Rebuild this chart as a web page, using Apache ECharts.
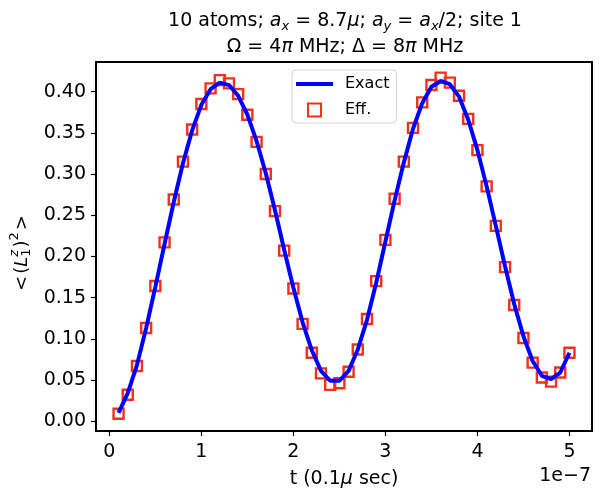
<!DOCTYPE html>
<html><head><meta charset="utf-8">
<script src="https://cdn.jsdelivr.net/npm/echarts@6/dist/echarts.min.js"></script>
<style>html,body{margin:0;padding:0;background:#fff}#c{width:602px;height:499px}</style>
</head><body><div id="c"></div>
<script>
// time in units of 1e-7 s
const tValues = [0.1,0.2,0.3,0.4,0.5,0.6,0.7,0.8,0.9,1.0,
  1.1,1.2,1.3,1.4,1.5,1.6,1.7,1.8,1.9,2.0,
  2.1,2.2,2.3,2.4,2.5,2.6,2.7,2.8,2.9,3.0,
  3.1,3.2,3.3,3.4,3.5,3.6,3.7,3.8,3.9,4.0,
  4.1,4.2,4.3,4.4,4.5,4.6,4.7,4.8,4.9,5.0];
const exactValues = [0.010,0.034,0.068,0.113,0.163,0.215,0.266,0.313,0.353,0.384,
  0.403,0.411,0.408,0.395,0.372,0.340,0.301,0.256,0.208,0.162,
  0.120,0.086,0.061,0.049,0.049,0.061,0.087,0.123,0.168,0.218,
  0.268,0.314,0.355,0.386,0.406,0.413,0.409,0.394,0.366,0.329,
  0.285,0.237,0.188,0.142,0.103,0.073,0.055,0.051,0.059,0.083];
const effValues = [0.009,0.032,0.067,0.113,0.164,0.217,0.269,0.315,0.354,0.385,
  0.404,0.414,0.410,0.397,0.372,0.339,0.300,0.255,0.207,0.161,
  0.118,0.083,0.058,0.044,0.046,0.060,0.087,0.124,0.170,0.220,
  0.270,0.315,0.356,0.387,0.408,0.417,0.411,0.395,0.367,0.329,
  0.285,0.237,0.187,0.141,0.101,0.071,0.053,0.048,0.059,0.083];
const xTicks = [0,1,2,3,4,5];
const yTicks = [0,0.05,0.10,0.15,0.20,0.25,0.30,0.35,0.40];
const seriesNames = ['Exact','Eff.'];

const FONT = 'DejaVu Sans';
const FS = 19;
const chart = echarts.init(document.getElementById('c'), null, {renderer:'canvas'});

const mctx = document.createElement('canvas').getContext('2d');
function tw(t, size, style){ mctx.font = (style||'normal') + ' ' + size + 'px "' + FONT + '"'; return mctx.measureText(t).width; }

function ylabelGroup(){
  const S = 18, s = 13;
  const parts = [];
  let x = 0;
  const add = (text, size, style, dy) => { parts.push({text, size, style, x, dy}); };
  add('<', S, 'normal', 0); x += tw('<', S) + 2;
  add('(', S, 'normal', 0); x += tw('(', S);
  add('L', S, 'italic', 0); x += tw('L', S, 'italic');
  add('z', s, 'italic', -7); add('1', s, 'normal', 5);
  x += Math.max(tw('z', s, 'italic'), tw('1', s)) + 1;
  add(')', S, 'normal', 0); x += tw(')', S);
  add('2', s, 'normal', -7); x += tw('2', s) + 2;
  add('>', S, 'normal', 0); x += tw('>', S);
  const total = x;
  return {
    type:'group', x: 22, y: 253, rotation: Math.PI/2,
    children: parts.map(p => ({type:'text', x: p.x - total/2, y: p.dy,
      style:{text:p.text, fontSize:p.size, fontStyle:p.style, fontFamily:FONT, fill:'#000', align:'left', verticalAlign:'middle'}}))
  };
}

const richT = {
  i:{fontStyle:'italic', fontSize:FS, fontFamily:FONT, fill:'#000', color:'#000'},
  sub:{fontStyle:'italic', fontSize:13, fontFamily:FONT, lineHeight:12, verticalAlign:'bottom', fill:'#000', color:'#000'}
};

chart.setOption({
  animation:false,
  backgroundColor:'#fff',
  grid:{left:96, right:10, top:62, bottom:68, show:true, borderColor:'#000', borderWidth:2, backgroundColor:'transparent'},
  xAxis:{type:'value', min:-0.145, max:5.245,
    name:'t (0.1{i|μ} sec)', nameLocation:'middle', nameGap:39,
    nameTextStyle:{fontSize:FS, fontFamily:FONT, color:'#000', rich:{i:{fontStyle:'italic', fontSize:FS, fontFamily:FONT, color:'#000'}}},
    axisLine:{show:true, onZero:false, lineStyle:{color:'#000', width:2}},
    axisTick:{show:true, inside:false, length:5, customValues:xTicks, lineStyle:{color:'#000', width:1.2}},
    axisLabel:{customValues:xTicks, fontSize:FS, fontFamily:FONT, color:'#000', margin:12, formatter:v=>String(v)},
    splitLine:{show:false}},
  yAxis:{type:'value', min:-0.012, max:0.436,
    axisLine:{show:true, onZero:false, lineStyle:{color:'#000', width:2}},
    axisTick:{show:true, inside:false, length:5, customValues:yTicks, lineStyle:{color:'#000', width:1.2}},
    axisLabel:{customValues:yTicks, fontSize:FS, fontFamily:FONT, color:'#000', margin:10, formatter:v=>v.toFixed(2)},
    splitLine:{show:false}},
  legend:{orient:'vertical', left:292, top:70, padding:[6,7,5,4], itemWidth:37, itemHeight:13, itemGap:10,
    symbolKeepAspect:true,
    borderColor:'#d6d6d6', borderWidth:1, borderRadius:4, backgroundColor:'rgba(255,255,255,0.8)',
    textStyle:{fontSize:16, fontFamily:FONT, color:'#000', rich:{t:{fontSize:16, fontFamily:FONT, color:'#000', padding:[0,0,0,7]}}},
    formatter:n=>'{t|'+n+'}',
    data:[{name:seriesNames[0], icon:'path://M0,0h40v4.2h-40z'},
          {name:seriesNames[1], icon:'path://M0,0h10v10h-10z'}]},
  graphic:[
    {type:'text', x:345, y:21, style:{text:'10 atoms; {i|a}{sub|x} = 8.7{i|μ}; {i|a}{sub|y} = {i|a}{sub|x}/2; site 1', rich:richT, fontSize:FS, fontFamily:FONT, fill:'#000', align:'center', verticalAlign:'middle', lineHeight:24}},
    {type:'text', x:345, y:47, style:{text:'Ω = 4{i|π} MHz; Δ = 8{i|π} MHz', rich:richT, fontSize:FS, fontFamily:FONT, fill:'#000', align:'center', verticalAlign:'middle', lineHeight:24}},
    {type:'text', x:591, y:476, style:{text:'1e−7', fontSize:FS, fontFamily:FONT, fill:'#000', align:'right', verticalAlign:'middle'}},
    ylabelGroup()
  ],
  series:[
    {name:seriesNames[0], type:'line', data:tValues.map((t,i)=>[t, exactValues[i]]), symbol:'none', z:3,
      lineStyle:{color:'#0000ff', width:4}, itemStyle:{color:'#0000ff'}},
    {name:seriesNames[1], type:'scatter', data:tValues.map((t,i)=>[t, effValues[i]]), symbol:'rect', symbolSize:10, z:2,
      itemStyle:{color:'rgba(255,255,255,0)', borderColor:'#f2301c', borderWidth:2.4, opacity:1}}
  ]
});
</script></body></html>
